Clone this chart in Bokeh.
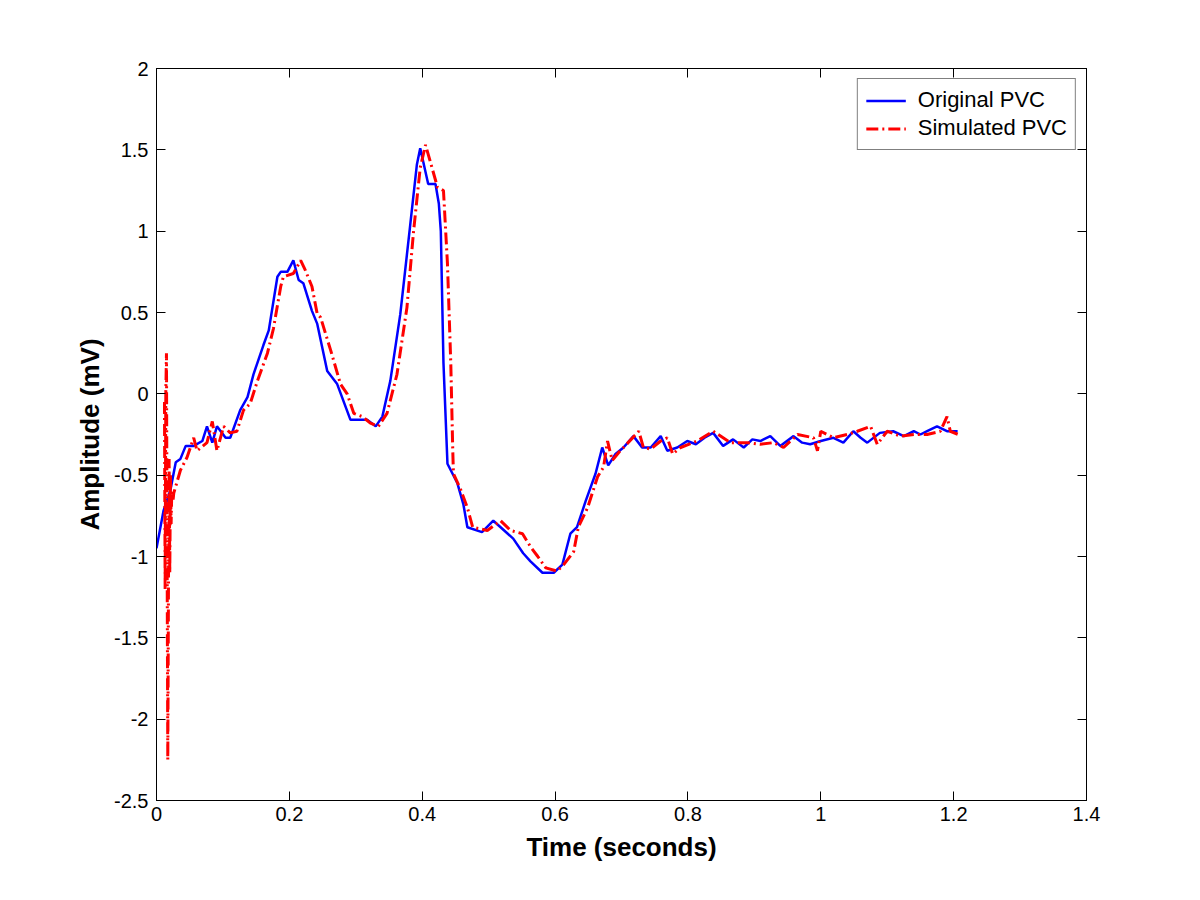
from bokeh.plotting import figure
from bokeh.models import LinearAxis, Range1d, Legend, LegendItem, FixedTicker
from bokeh.embed import file_html
from bokeh.resources import INLINE

# ---- data ----
orig_t = [0.000, 0.0105, 0.021, 0.029, 0.036, 0.044, 0.056, 0.069, 0.076, 0.084,
          0.091, 0.104, 0.111, 0.126, 0.137, 0.146, 0.161, 0.169, 0.182, 0.187,
          0.197, 0.206, 0.214, 0.221, 0.234, 0.242, 0.257, 0.272, 0.292, 0.307,
          0.317, 0.330, 0.340, 0.352, 0.367, 0.382, 0.392, 0.397, 0.409, 0.420,
          0.425, 0.428, 0.432, 0.438, 0.453, 0.462, 0.468, 0.490, 0.507, 0.518,
          0.537, 0.552, 0.563, 0.581, 0.598, 0.611, 0.623, 0.633, 0.646, 0.661,
          0.671, 0.680, 0.691, 0.703, 0.718, 0.731, 0.744, 0.759, 0.769, 0.784,
          0.799, 0.812, 0.825, 0.838, 0.853, 0.868, 0.884, 0.897, 0.909, 0.924,
          0.939, 0.959, 0.972, 0.984, 1.000, 1.019, 1.034, 1.049, 1.060, 1.070,
          1.089, 1.109, 1.125, 1.140, 1.150, 1.160, 1.175, 1.190, 1.206]
orig_v = [-0.95, -0.72, -0.59, -0.42, -0.40, -0.32, -0.32, -0.29, -0.20, -0.30,
          -0.20, -0.27, -0.27, -0.10, -0.02, 0.12, 0.30, 0.39, 0.72, 0.75,
          0.75, 0.82, 0.70, 0.68, 0.51, 0.43, 0.14, 0.06, -0.16, -0.16,
          -0.16, -0.20, -0.14, 0.08, 0.49, 1.04, 1.41, 1.51, 1.29, 1.29,
          1.17, 1.00, 0.19, -0.43, -0.55, -0.68, -0.82, -0.85, -0.78, -0.82,
          -0.89, -0.98, -1.03, -1.10, -1.10, -1.05, -0.86, -0.82, -0.66, -0.49,
          -0.33, -0.44, -0.37, -0.33, -0.26, -0.33, -0.33, -0.26, -0.35, -0.33,
          -0.29, -0.31, -0.27, -0.24, -0.32, -0.28, -0.33, -0.28, -0.29, -0.26,
          -0.32, -0.26, -0.30, -0.31, -0.29, -0.27, -0.30, -0.23, -0.27, -0.30,
          -0.24, -0.23, -0.26, -0.23, -0.25, -0.23, -0.20, -0.23, -0.23]

sim_t = [0.012, 0.013, 0.014, 0.015, 0.016, 0.017, 0.018, 0.019, 0.020, 0.021,
         0.022, 0.023, 0.025, 0.026, 0.036, 0.046, 0.056, 0.061, 0.076, 0.084,
         0.091, 0.101, 0.111, 0.121, 0.131, 0.141, 0.152, 0.167, 0.176, 0.187,
         0.191, 0.206, 0.217, 0.224, 0.234, 0.242, 0.247, 0.262, 0.277, 0.287,
         0.297, 0.310, 0.322, 0.334, 0.347, 0.362, 0.377, 0.387, 0.397, 0.405,
         0.412, 0.423, 0.432, 0.438, 0.443, 0.446, 0.447, 0.458, 0.468, 0.476,
         0.498, 0.518, 0.533, 0.551, 0.563, 0.574, 0.586, 0.603, 0.613, 0.628,
         0.635, 0.649, 0.664, 0.673, 0.679, 0.686, 0.698, 0.703, 0.726, 0.733,
         0.744, 0.759, 0.769, 0.777, 0.789, 0.814, 0.838, 0.864, 0.890, 0.909,
         0.929, 0.944, 0.965, 0.989, 0.995, 1.000, 1.019, 1.040, 1.055, 1.075,
         1.085, 1.100, 1.120, 1.140, 1.160, 1.180, 1.190, 1.195, 1.207]
sim_v = [-0.05, -1.20, 0.00, 0.25, -1.00, -2.25, -1.20, -0.40, -1.10, -0.50,
         -0.80, -0.60, -0.65, -0.61, -0.47, -0.39, -0.27, -0.35, -0.30, -0.17,
         -0.35, -0.20, -0.24, -0.23, -0.10, -0.06, 0.08, 0.25, 0.40, 0.66,
         0.72, 0.74, 0.82, 0.76, 0.66, 0.49, 0.47, 0.27, 0.06, 0.00,
         -0.12, -0.14, -0.18, -0.20, -0.12, 0.12, 0.53, 1.00, 1.39, 1.53,
         1.43, 1.27, 1.25, 0.80, 0.19, -0.35, -0.49, -0.59, -0.70, -0.82,
         -0.84, -0.78, -0.84, -0.86, -0.94, -1.00, -1.07, -1.09, -1.05, -0.97,
         -0.82, -0.70, -0.51, -0.45, -0.29, -0.41, -0.35, -0.33, -0.23, -0.33,
         -0.34, -0.29, -0.27, -0.37, -0.33, -0.29, -0.23, -0.30, -0.30, -0.31,
         -0.30, -0.33, -0.25, -0.27, -0.35, -0.23, -0.27, -0.25, -0.23, -0.20,
         -0.31, -0.23, -0.26, -0.25, -0.25, -0.23, -0.14, -0.23, -0.25]

x_ticks = [0, 0.2, 0.4, 0.6, 0.8, 1.0, 1.2, 1.4]
x_labels = ["0", "0.2", "0.4", "0.6", "0.8", "1", "1.2", "1.4"]
y_ticks = [-2.5, -2, -1.5, -1, -0.5, 0, 0.5, 1, 1.5, 2]
y_labels = ["-2.5", "-2", "-1.5", "-1", "-0.5", "0", "0.5", "1", "1.5", "2"]

FONT = "Liberation Sans"

p = figure(frame_width=930, frame_height=732,
           min_border_left=156, min_border_right=106,
           min_border_top=68, min_border_bottom=92,
           x_range=Range1d(0, 1.4), y_range=Range1d(-2.5, 2),
           output_backend="svg", toolbar_location=None,
           x_axis_label="Time (seconds)", y_axis_label="Amplitude (mV)")

p.xgrid.visible = False
p.ygrid.visible = False
p.outline_line_color = "black"
p.outline_line_width = 1
p.background_fill_color = "white"
p.border_fill_color = "white"

def style_axis(ax, ticks, labels, show_labels=True):
    ax.ticker = FixedTicker(ticks=ticks)
    ax.major_label_overrides = {t: l for t, l in zip(ticks, labels)}
    ax.minor_tick_line_color = None
    ax.major_tick_in = 9
    ax.major_tick_out = 0
    ax.axis_line_color = "black"
    ax.major_tick_line_color = "black"
    ax.major_label_text_font = FONT
    ax.major_label_text_font_size = "20px"
    ax.major_label_text_color = "black"
    ax.axis_label_text_font = FONT
    ax.axis_label_text_font_size = "26px"
    ax.axis_label_text_font_style = "bold"
    ax.axis_label_text_color = "black"
    if not show_labels:
        ax.major_label_text_font_size = "0px"
        ax.major_label_text_color = None

style_axis(p.xaxis[0], x_ticks, x_labels)
style_axis(p.yaxis[0], y_ticks, y_labels)
p.xaxis[0].major_label_standoff = 6
p.yaxis[0].major_label_standoff = 8
p.xaxis[0].axis_label_standoff = 8
p.yaxis[0].axis_label_standoff = 6

top_ax = LinearAxis()
style_axis(top_ax, x_ticks, x_labels, show_labels=False)
right_ax = LinearAxis()
style_axis(right_ax, y_ticks, y_labels, show_labels=False)
p.add_layout(top_ax, "above")
p.add_layout(right_ax, "right")

r1 = p.line(orig_t, orig_v, line_color="#0000FF", line_width=2.5)
r2 = p.line(sim_t, sim_v, line_color="#FF0000", line_width=3, line_dash="12 4 2 4")

legend = Legend(items=[LegendItem(label="Original PVC", renderers=[r1]),
                       LegendItem(label="Simulated PVC", renderers=[r2])],
                location="top_right")
legend.label_text_font = FONT
legend.label_text_font_size = "22px"
legend.label_text_color = "black"
legend.glyph_width = 40
legend.glyph_height = 21
legend.label_height = 21
legend.label_standoff = 12
legend.spacing = 2
legend.padding = 8
legend.margin = 10
legend.border_line_color = "black"
legend.border_line_width = 1
legend.background_fill_color = "white"
legend.background_fill_alpha = 1.0
p.add_layout(legend)

open("out.html", "w").write(file_html(p, INLINE))
